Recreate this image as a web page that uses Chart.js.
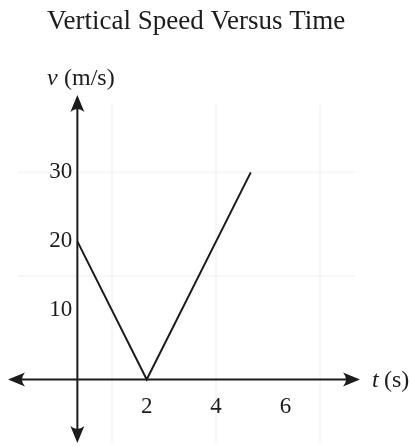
<!DOCTYPE html>
<html lang="en">
<head>
    <meta charset="UTF-8">
    <title>Vertical Speed Versus Time</title>
    <script src="https://cdn.jsdelivr.net/npm/chart.js"></script>
    <style>
        html, body { margin: 0; padding: 0; background: #fff; }
        #wrap { position: relative; width: 411px; height: 446px; }
    </style>
</head>
<body>
    <div id="wrap"><canvas id="speedChart"></canvas></div>

    <script>
        // speed data (t in s, v in m/s)
        const times = [0, 2, 5];
        const speeds = [20, 0, 30];

        // tick labels along each axis
        const tTicks = [2, 4, 6];
        const vTicks = [10, 20, 30];

        // faint background grid
        const tGrid = [1, 4, 7];
        const vGrid = [15, 30];

        const ink = '#1c1c1c';
        const serif = '"Liberation Serif", "DejaVu Serif", serif';

        function arrowHead(ctx, x, y, angle) {
            ctx.save();
            ctx.translate(x, y);
            ctx.rotate(angle);
            ctx.beginPath();
            ctx.moveTo(0, 0);
            ctx.lineTo(-17, -7);
            ctx.quadraticCurveTo(-11, 0, -17, 7);
            ctx.closePath();
            ctx.fillStyle = ink;
            ctx.fill();
            ctx.restore();
        }

        // draws grid, axes with arrows, tick labels and captions
        const axesPlugin = {
            id: 'axesPlugin',
            beforeDatasetsDraw(chart) {
                const { ctx, chartArea: a, scales: { x, y } } = chart;
                const x0 = x.getPixelForValue(0);
                const y0 = y.getPixelForValue(0);

                ctx.save();
                ctx.strokeStyle = 'rgba(0,0,0,0.035)';
                ctx.lineWidth = 2;
                tGrid.forEach(t => {
                    const px = x.getPixelForValue(t);
                    ctx.beginPath();
                    ctx.moveTo(px, a.top + 10);
                    ctx.lineTo(px, a.bottom);
                    ctx.stroke();
                });
                vGrid.forEach(v => {
                    const py = y.getPixelForValue(v);
                    ctx.beginPath();
                    ctx.moveTo(a.left + 10, py);
                    ctx.lineTo(a.right - 5, py);
                    ctx.stroke();
                });

                // axes
                ctx.strokeStyle = ink;
                ctx.lineWidth = 2;
                ctx.beginPath();
                ctx.moveTo(a.left + 6, y0);
                ctx.lineTo(a.right - 6, y0);
                ctx.moveTo(x0, a.top + 6);
                ctx.lineTo(x0, a.bottom - 6);
                ctx.stroke();
                arrowHead(ctx, a.left, y0, Math.PI);
                arrowHead(ctx, a.right, y0, 0);
                arrowHead(ctx, x0, a.top, -Math.PI / 2);
                arrowHead(ctx, x0, a.bottom, Math.PI / 2);

                // tick labels
                ctx.fillStyle = ink;
                ctx.font = '23px ' + serif;
                ctx.textAlign = 'center';
                ctx.textBaseline = 'top';
                tTicks.forEach(t => ctx.fillText(String(t), x.getPixelForValue(t), y0 + 16));
                ctx.textAlign = 'right';
                ctx.textBaseline = 'middle';
                vTicks.forEach(v => ctx.fillText(String(v), x0 - 5, y.getPixelForValue(v)));

                // captions
                ctx.textAlign = 'left';
                ctx.font = '27px ' + serif;
                ctx.textBaseline = 'alphabetic';
                ctx.fillText('Vertical Speed Versus Time', 47, 29);
                ctx.font = 'italic 24px ' + serif;
                ctx.fillText('v', 47, 85);
                ctx.font = '24px ' + serif;
                ctx.fillText('(m/s)', 64, 85);
                ctx.font = 'italic 24px ' + serif;
                ctx.fillText('t', 372, 387);
                ctx.font = '24px ' + serif;
                ctx.fillText('(s)', 384, 387);
                ctx.restore();
            }
        };

        new Chart(document.getElementById('speedChart'), {
            type: 'line',
            data: {
                datasets: [{
                    data: times.map((t, i) => ({ x: t, y: speeds[i] })),
                    borderColor: ink,
                    borderWidth: 2,
                    pointRadius: 0,
                    tension: 0,
                    fill: false
                }]
            },
            options: {
                responsive: true,
                maintainAspectRatio: false,
                animation: false,
                layout: { padding: { left: 8, right: 51, top: 95, bottom: 3 } },
                plugins: {
                    legend: { display: false },
                    tooltip: { enabled: false }
                },
                scales: {
                    x: { type: 'linear', display: false, min: -2, max: 8.15 },
                    y: { type: 'linear', display: false, min: -9.2, max: 41.2 }
                }
            },
            plugins: [axesPlugin]
        });
    </script>
</body>
</html>
